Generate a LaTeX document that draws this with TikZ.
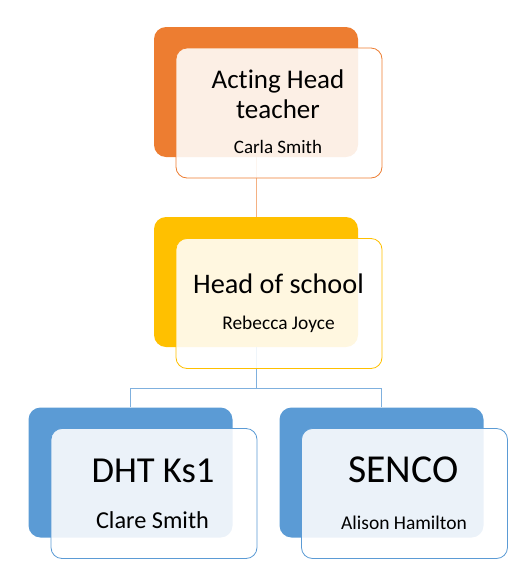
\documentclass[tikz,border=0pt]{standalone}
\usepackage{fontspec}
\setmainfont{Carlito}[Ligatures=NoCommon]
\definecolor{corange}{HTML}{ED7D31}
\definecolor{cyellow}{HTML}{FFC000}
\definecolor{cblue}{HTML}{5B9BD5}
\definecolor{lorange}{HTML}{F4B183}
\definecolor{lblue}{HTML}{7FB0DE}
\begin{document}
\begin{tikzpicture}[x=1pt,y=-1pt,
  backbox/.style={draw=none,fill=#1,rounded corners=12pt,inner sep=0pt,minimum width=204pt,minimum height=130pt},
  frontbox/.style={draw=#1,line width=0.8pt,fill=white,fill opacity=0.88,rounded corners=11pt,inner sep=0pt,minimum width=206pt,minimum height=130pt},
  title/.style={anchor=base,inner sep=0pt,font=\fontsize{#1}{#1}\selectfont},
  conn/.style={draw=#1,line width=0.8pt}]
\useasboundingbox (0,0) rectangle (531,587);
% back boxes
\node[backbox=corange] (b1) at (256,92) {};
\node[backbox=cyellow] (b2) at (256,282) {};
\node[backbox=cblue] (b3) at (130.5,472.5) {};
\node[backbox=cblue] (b4) at (381.5,472.5) {};
% connectors
\coordinate (j) at (256,388);
\draw[conn=lorange] (b1.south) -- (b2.north);
\draw[conn=lblue] (b2.south) -- (j);
\draw[conn=lblue] (j) -| (b3.north);
\draw[conn=lblue] (j) -| (b4.north);
% front boxes
\node[frontbox=corange] (f1) at (279,113) {};
\node[frontbox=cyellow] (f2) at (279,303.5) {};
\node[frontbox=cblue] (f3) at (154,493.5) {};
\node[frontbox=cblue] (f4) at (404.5,493.5) {};
% texts
\node[title=27] (t1a) at (278,88) {Acting Head};
\node[title=27] (t1b) at (278,118) {teacher};
\node[title=19] (t1c) at (278,153) {Carla Smith};
\node[title=28.3] (t2a) at (278.5,293) {Head of school};
\node[title=19.4] (t2b) at (278.5,329) {Rebecca Joyce};
\node[title=36.6] (t3a) at (153,482) {DHT Ks1};
\node[title=24.3] (t3b) at (152.5,528) {Clare Smith};
\node[title=39.6] (t4a) at (403.5,482) {SENCO};
\node[title=19.5] (t4b) at (404,529) {Alison Hamilton};
\end{tikzpicture}
\end{document}
